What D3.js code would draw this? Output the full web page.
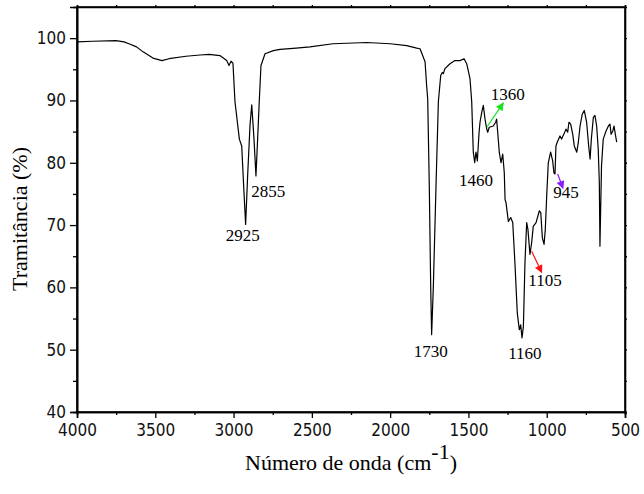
<!DOCTYPE html>
<html>
<head>
<meta charset="utf-8">
<script src="https://cdn.jsdelivr.net/npm/d3@7"></script>
<style>
  body { margin: 0; background: #fff; }
  .tick-label { font-family: "DejaVu Sans Condensed", "DejaVu Sans", sans-serif; font-size: 17px; fill: #111; }
  .serif { font-family: "Liberation Serif", "Times New Roman", serif; fill: #000; }
</style>
</head>
<body>
<div id="chart"></div>
<script>
const svgWidth = 644
const svgHeight = 494

let margin = { top: 7, right: 19, bottom: 82, left: 77 }
let width = svgWidth - margin.left - margin.right
let height = svgHeight - margin.top - margin.bottom

// spectrum (cm-1, %)
const wavenumber = [
  4000, 3900, 3751, 3700, 3668, 3620, 3578, 3515, 3457, 3412, 3304, 3214, 3157, 3087,
  3044, 3029, 3016, 3004, 2991, 2963, 2948, 2935, 2923, 2910, 2895, 2884, 2870, 2857,
  2846, 2836, 2825, 2799, 2746, 2703, 2600, 2512, 2365, 2150, 2000, 1894, 1830, 1809,
  1777, 1767, 1760, 1750, 1741, 1735, 1724, 1707, 1692, 1677, 1667, 1660, 1650, 1618,
  1586, 1554, 1528, 1511, 1490, 1479, 1469, 1460, 1452, 1443, 1432, 1426, 1415, 1405,
  1394, 1383, 1377, 1367, 1341, 1326, 1320, 1313, 1303, 1292, 1281, 1271, 1266, 1260,
  1245, 1230, 1217, 1203, 1188, 1175, 1166, 1158, 1149, 1139, 1128, 1120, 1107, 1096,
  1086, 1068, 1047, 1038, 1028, 1017, 1009, 1000, 990, 975, 962, 954, 947, 941,
  933, 915, 905, 890, 877, 866, 858, 847, 834, 824, 808, 798, 787, 773,
  760, 745, 732, 723, 715, 702, 692, 681, 671, 664, 660, 650, 639, 621,
  606, 596, 589, 578, 570, 562, 553
]
const transmittance = [
  99.4, 99.5, 99.6, 99.4, 99.1, 98.6, 97.8, 96.8, 96.4, 96.7, 97.1, 97.3, 97.4, 97.2,
  96.4, 95.6, 96.3, 96.0, 89.8, 83.8, 82.7, 76.0, 70.1, 78.0, 86.0, 89.3, 84.0, 77.9,
  84.0, 89.8, 95.6, 97.5, 98.0, 98.2, 98.4, 98.6, 99.1, 99.3, 99.1, 98.8, 98.4, 98.3,
  96.2, 92.4, 90.2, 76.3, 60.2, 52.4, 60.2, 76.3, 89.8, 94.0, 94.5, 94.3, 95.1, 95.9,
  96.4, 96.4, 96.7, 95.9, 93.5, 89.8, 81.7, 80.0, 81.7, 80.3, 84.9, 86.5, 88.1, 89.2,
  87.0, 85.4, 84.9, 85.7, 85.9, 86.5, 87.0, 84.9, 81.7, 80.0, 81.4, 78.4, 74.1, 73.6,
  70.6, 71.2, 70.4, 63.9, 55.9, 53.2, 54.0, 51.9, 53.7, 63.9, 70.4, 69.3, 65.3, 67.2,
  69.8, 70.4, 72.3, 72.0, 68.0, 66.9, 69.3, 74.7, 80.0, 81.7, 80.3, 78.4, 78.2, 82.7,
  83.3, 84.3, 83.8, 84.6, 85.4, 84.9, 86.5, 86.2, 84.6, 82.7, 81.7, 83.3, 85.9, 87.8,
  88.4, 86.5, 82.7, 80.6, 83.8, 87.3, 87.6, 85.9, 82.2, 76.8, 66.6, 79.5, 83.8, 85.1,
  85.9, 86.2, 84.6, 85.1, 85.9, 84.6, 83.3
]

// peak labels: text, x (cm-1), y (%)
const peakText = ["2925", "2855", "1730", "1460", "1360", "1160", "1105", "945"]
const peakX = [2942, 2778, 1741, 1452, 1249, 1139, 1011, 877]
const peakY = [67.4, 74.5, 48.9, 76.3, 90.0, 48.5, 60.3, 74.3]

// arrows: start/end in data units
const arrowColor = ["#1ee01e", "#ff1010", "#8a1cff"]
const arrowX1 = [1383, 1096, 930]
const arrowY1 = [85.7, 65.8, 78.2]
const arrowX2 = [1277, 1032, 896]
const arrowY2 = [89.6, 62.4, 75.9]

const xMajor = d3.range(4000, 499, -500)
const xMinor = d3.range(3750, 500, -500)
const yMajor = d3.range(40, 101, 10)
const yMinor = d3.range(45, 100, 10)

let svg = d3
  .select("#chart")
  .append("svg")
  .attr("width", svgWidth)
  .attr("height", svgHeight)

let chartGroup = svg
  .append("g")
  .attr("transform", `translate(${margin.left}, ${margin.top})`)

let xScale = d3.scaleLinear().domain([4000, 500]).range([0, width])
let yScale = d3.scaleLinear().domain([40, 105]).range([height, 0])

// bottom axis
let bottomAxis = chartGroup
  .append("g")
  .attr("transform", `translate(0, ${height})`)
  .call(d3.axisBottom(xScale).tickValues(xMajor).tickSize(6).tickPadding(6).tickFormat(d3.format("d")))
bottomAxis
  .append("g")
  .call(d3.axisBottom(xScale).tickValues(xMinor).tickSize(3).tickFormat(""))

// left axis
let leftAxis = chartGroup
  .append("g")
  .call(d3.axisLeft(yScale).tickValues(yMajor).tickSize(7).tickPadding(4).tickFormat(d3.format("d")))
leftAxis
  .append("g")
  .call(d3.axisLeft(yScale).tickValues(yMinor).tickSize(4).tickFormat(""))

// top and right axes, tiny ticks
chartGroup
  .append("g")
  .call(d3.axisTop(xScale).tickValues(xMajor.concat(xMinor)).tickSize(2).tickFormat(""))
chartGroup
  .append("g")
  .attr("transform", `translate(${width}, 0)`)
  .call(d3.axisRight(yScale).tickValues(yMajor.concat(yMinor)).tickSize(2).tickFormat(""))

chartGroup.selectAll(".domain").attr("stroke", "#000").attr("stroke-width", 1.6)
chartGroup.selectAll(".tick line").attr("stroke", "#000").attr("stroke-width", 1.3)
chartGroup.selectAll(".tick text").attr("class", "tick-label").attr("fill", "#111")

// frame
chartGroup
  .append("rect")
  .attr("width", width)
  .attr("height", height)
  .attr("fill", "none")
  .attr("stroke", "#000")
  .attr("stroke-width", 1.6)

// spectrum
let line = d3
  .line()
  .x((d, i) => xScale(wavenumber[i]))
  .y(d => yScale(d))

chartGroup
  .append("path")
  .datum(transmittance)
  .attr("d", line)
  .attr("fill", "none")
  .attr("stroke", "#000")
  .attr("stroke-width", 1.2)
  .attr("stroke-linejoin", "round")

// arrows
let defs = svg.append("defs")
arrowColor.forEach((c, i) => {
  defs
    .append("marker")
    .attr("id", `head${i}`)
    .attr("viewBox", "0 0 10 10")
    .attr("refX", 9)
    .attr("refY", 5)
    .attr("markerWidth", 10)
    .attr("markerHeight", 8)
    .attr("markerUnits", "userSpaceOnUse")
    .attr("orient", "auto")
    .append("path")
    .attr("d", "M0,0 L10,5 L0,10 Z")
    .attr("fill", c)
})

chartGroup
  .selectAll(".arrow")
  .data(arrowColor)
  .enter()
  .append("line")
  .attr("class", "arrow")
  .attr("x1", (d, i) => xScale(arrowX1[i]))
  .attr("y1", (d, i) => yScale(arrowY1[i]))
  .attr("x2", (d, i) => xScale(arrowX2[i]))
  .attr("y2", (d, i) => yScale(arrowY2[i]))
  .attr("stroke", d => d)
  .attr("stroke-width", 1.2)
  .attr("marker-end", (d, i) => `url(#head${i})`)

// peak labels
chartGroup
  .selectAll(".peak")
  .data(peakText)
  .enter()
  .append("text")
  .attr("class", "serif")
  .attr("x", (d, i) => xScale(peakX[i]))
  .attr("y", (d, i) => yScale(peakY[i]))
  .attr("text-anchor", "middle")
  .style("font-size", "17px")
  .text(d => d)

// axis titles
let xTitle = svg
  .append("text")
  .attr("class", "serif")
  .attr("x", margin.left + width / 2)
  .attr("y", 470)
  .attr("text-anchor", "middle")
  .style("font-size", "22px")
xTitle.append("tspan").text("Número de onda (cm")
xTitle.append("tspan").attr("dy", -11).text("-1")
xTitle.append("tspan").attr("dy", 11).text(")")

svg
  .append("text")
  .attr("class", "serif")
  .attr("transform", "rotate(-90)")
  .attr("x", -219)
  .attr("y", 27)
  .attr("text-anchor", "middle")
  .style("font-size", "22px")
  .text("Tramitância (%)")
</script>
</body>
</html>
